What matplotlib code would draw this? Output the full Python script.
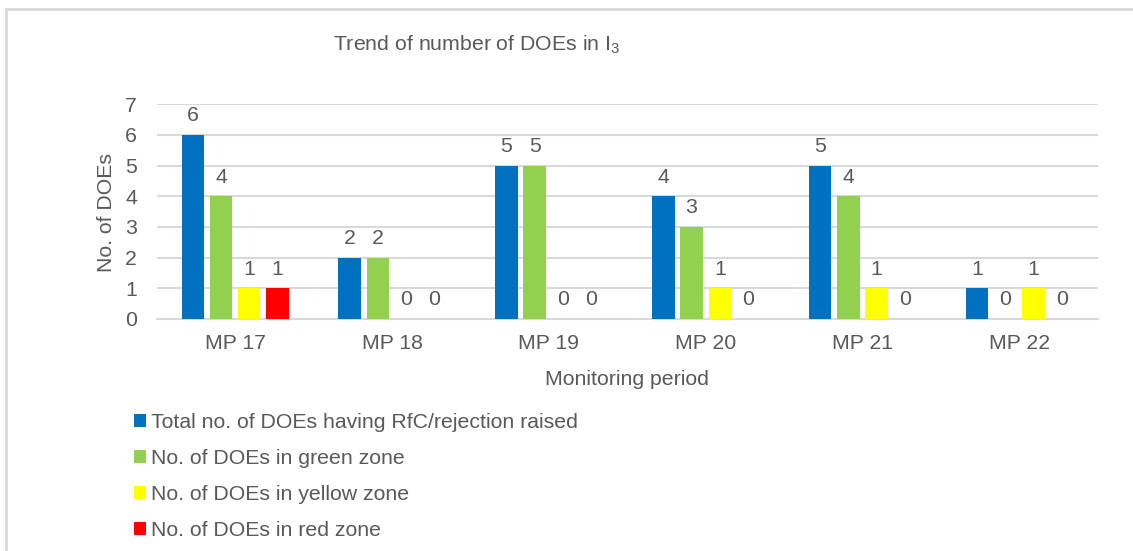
import numpy as np
import matplotlib
matplotlib.use("Agg")
import matplotlib.pyplot as plt
from matplotlib.patches import Rectangle

plt.rcParams['font.family'] = ['Liberation Sans', 'DejaVu Sans']
plt.rcParams['mathtext.fontset'] = 'custom'
plt.rcParams['mathtext.rm'] = 'Liberation Sans'
plt.rcParams['mathtext.it'] = 'Liberation Sans'

# ===== data =====
periods = ["MP 17", "MP 18", "MP 19", "MP 20", "MP 21", "MP 22"]
total_rfc = [6, 2, 5, 4, 5, 1]
green_zone = [4, 2, 5, 3, 4, 0]
yellow_zone = [1, 0, 0, 1, 1, 1]
red_zone = [1, 0, 0, 0, 0, 0]

series_labels = ["Total no. of DOEs having RfC/rejection raised",
                 "No. of DOEs in green zone",
                 "No. of DOEs in yellow zone",
                 "No. of DOEs in red zone"]
series_colors = ["#0070C0", "#92D050", "#FFFF00", "#FF0000"]

TXT = "#595959"
GRID = "#D9D9D9"
FS = 15.3

fig = plt.figure(figsize=(11.33, 5.51), dpi=100)
ax = fig.add_axes([0.1383, 0.4211, 0.8306, 0.3896])

x = np.arange(len(periods))
step = 0.18
width = 0.1435
handles = []
for i, (vals, col) in enumerate(zip([total_rfc, green_zone, yellow_zone, red_zone], series_colors)):
    b = ax.bar(x + (i - 1.5) * step, vals, width, color=col, label=series_labels[i], zorder=3)
    ax.bar_label(b, padding=7, fontsize=FS, color=TXT)
    handles.append(b)

ax.set_xlim(-0.5, len(periods) - 0.5)
ax.set_ylim(0, 7)
ax.set_yticks(range(0, 8))
ax.set_xticks(x)
ax.set_xticklabels(periods)
ax.yaxis.grid(True, color=GRID, linewidth=1.5, zorder=0)
for s in ["top", "right", "left"]:
    ax.spines[s].set_visible(False)
ax.spines["bottom"].set_color(GRID)
ax.spines["bottom"].set_linewidth(1.5)
ax.tick_params(axis='y', length=0, pad=14, labelsize=FS, labelcolor=TXT)
ax.tick_params(axis='x', length=0, pad=11, labelsize=FS, labelcolor=TXT)

fig.text(333 / 1133, 1 - 51 / 551, r"Trend of number of DOEs in I$_{\mathregular{3}}$",
         fontsize=FS, color=TXT, ha='left', va='baseline')
fig.text(106 / 1133, 1 - 212 / 551, "No. of DOEs", rotation=90, fontsize=FS,
         color=TXT, ha='center', va='center')
fig.text(627.3 / 1133, 1 - 385 / 551, "Monitoring period", fontsize=FS,
         color=TXT, ha='center', va='baseline')

leg = fig.legend(handles=handles, loc='upper left', bbox_to_anchor=(134 / 1133, 1 - 413 / 551),
                 frameon=False, fontsize=FS, handlelength=0.55, handleheight=0.55,
                 handletextpad=0.25, labelspacing=0.8, borderpad=0, borderaxespad=0)
for t in leg.get_texts():
    t.set_color(TXT)

# outer chart border (light gray, open to the right and bottom)
fig.add_artist(Rectangle((6 / 1133, -0.1), 1.5, 1.1 - 9.5 / 551, transform=fig.transFigure,
                         fill=False, edgecolor=GRID, linewidth=2))

fig.savefig("out.png", dpi=100)
